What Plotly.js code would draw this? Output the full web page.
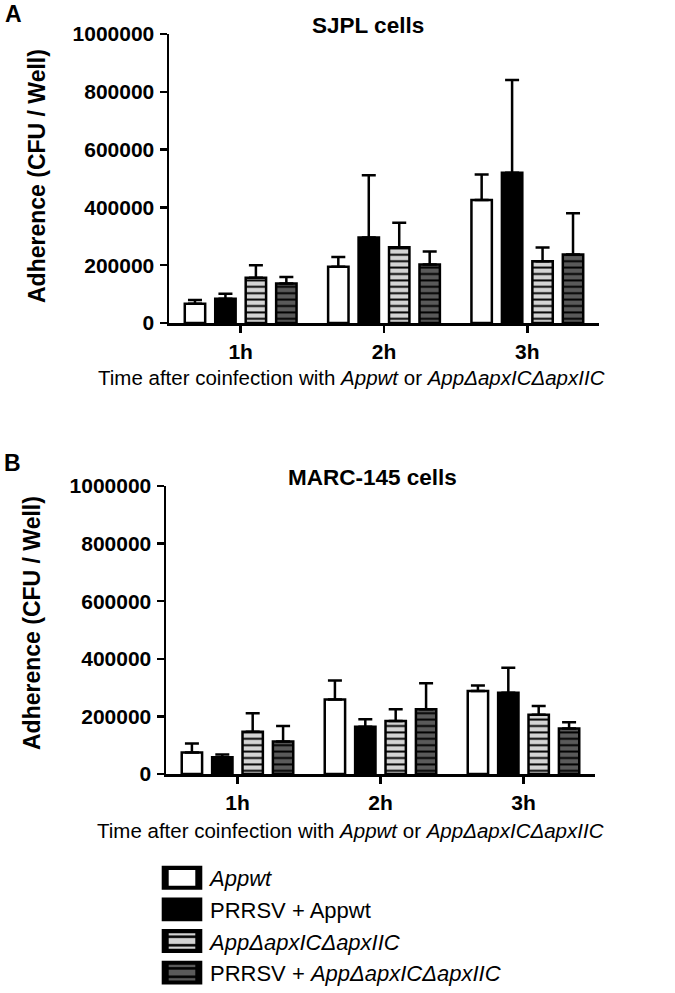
<!DOCTYPE html>
<html>
<head>
<meta charset="utf-8">
<script src="https://cdn.plot.ly/plotly-3.0.1.min.js"></script>
<style>
  html, body { margin: 0; padding: 0; background: #fff; }
  #chart { width: 675px; height: 993px; }
</style>
</head>
<body>
<div id="chart"></div>
<script>
// ---- data ----
const categories = ['1h', '2h', '3h'];
const seriesNames = [
  '<i>Appwt</i>',
  'PRRSV + Appwt',
  '<i>AppΔapxICΔapxIIC</i>',
  'PRRSV + <i>AppΔapxICΔapxIIC</i>'
];
// Panel A: SJPL cells (mean, upper SD)
const sjplAppwt       = [67000, 195000, 426000];
const sjplPrrsvAppwt  = [84000, 296000, 520000];
const sjplMutant      = [157000, 262000, 214000];
const sjplPrrsvMutant = [137000, 202000, 237000];
const sjplAppwtErr       = [13000, 33000, 88000];
const sjplPrrsvAppwtErr  = [17000, 215000, 321000];
const sjplMutantErr      = [43000, 85000, 47000];
const sjplPrrsvMutantErr = [22000, 45000, 143000];
// Panel B: MARC-145 cells
const marcAppwt       = [75000, 259000, 288000];
const marcPrrsvAppwt  = [58000, 164000, 282000];
const marcMutant      = [147000, 184000, 206000];
const marcPrrsvMutant = [113000, 225000, 158000];
const marcAppwtErr       = [31000, 66000, 19000];
const marcPrrsvAppwtErr  = [10000, 26000, 87000];
const marcMutantErr      = [64000, 41000, 30000];
const marcPrrsvMutantErr = [54000, 90000, 22000];
const yTickVals = [0, 200000, 400000, 600000, 800000, 1000000];

// ---- styles ----
const FONT = 'Liberation Sans, Arial, Helvetica, sans-serif';
const W = 675, H = 993;
const styles = [
  { color: '#ffffff', pattern: null },
  { color: '#000000', pattern: null },
  { color: '#d4d4d4', pattern: { shape: '-', fgcolor: '#000000', bgcolor: '#d4d4d4', size: 6.4, solidity: 0.3, fillmode: 'replace' } },
  { color: '#5a5a5a', pattern: { shape: '-', fgcolor: '#000000', bgcolor: '#5a5a5a', size: 6.4, solidity: 0.3, fillmode: 'replace' } }
];

function makeTrace(i, y, err, xa, ya, showlegend) {
  const marker = { color: styles[i].color, line: { color: '#000', width: 2.5 } };
  if (styles[i].pattern) marker.pattern = styles[i].pattern;
  return {
    type: 'bar', x: categories, y: y, name: seriesNames[i],
    xaxis: xa, yaxis: ya, showlegend: showlegend, legendgroup: 'g' + i,
    marker: marker,
    error_y: { type: 'data', symmetric: false, array: err, arrayminus: err.map(() => 0),
               color: '#000', thickness: 2.5, width: 7 },
    hoverinfo: 'skip'
  };
}

const data = [
  makeTrace(0, sjplAppwt, sjplAppwtErr, 'x', 'y', true),
  makeTrace(1, sjplPrrsvAppwt, sjplPrrsvAppwtErr, 'x', 'y', true),
  makeTrace(2, sjplMutant, sjplMutantErr, 'x', 'y', true),
  makeTrace(3, sjplPrrsvMutant, sjplPrrsvMutantErr, 'x', 'y', true),
  makeTrace(0, marcAppwt, marcAppwtErr, 'x2', 'y2', false),
  makeTrace(1, marcPrrsvAppwt, marcPrrsvAppwtErr, 'x2', 'y2', false),
  makeTrace(2, marcMutant, marcMutantErr, 'x2', 'y2', false),
  makeTrace(3, marcPrrsvMutant, marcPrrsvMutantErr, 'x2', 'y2', false)
];

function xAxis(domain, anchor) {
  return {
    domain: domain, anchor: anchor, type: 'category', range: [-0.5, 2.5],
    showline: true, linecolor: '#000', linewidth: 2.5, mirror: false,
    ticks: 'outside', ticklen: 7, tickwidth: 2.5, tickcolor: '#000',
    tickfont: { family: FONT, size: 21, color: '#000', weight: 'bold' },
    ticklabelstandoff: 1, automargin: false,
    showgrid: false, zeroline: false, fixedrange: true
  };
}
function yAxis(domain, anchor) {
  return {
    domain: domain, anchor: anchor, range: [0, 1000000],
    tickvals: yTickVals, tickformat: 'd',
    showline: true, linecolor: '#000', linewidth: 2.5,
    ticks: 'outside', ticklen: 7, tickwidth: 2.5, tickcolor: '#000',
    tickfont: { family: FONT, size: 21, color: '#000', weight: 'bold' },
    ticklabelstandoff: 1, automargin: false,
    showgrid: false, zeroline: false, fixedrange: true
  };
}

const xTitle = 'Time after coinfection with <i>Appwt</i> or <i>AppΔapxICΔapxIIC</i>';
const yTitle = 'Adherence (CFU / Well)';

function ann(text, px, py, size, bold, extra) {
  return Object.assign({
    text: text, xref: 'paper', yref: 'paper', x: px / W, y: 1 - py / H,
    xanchor: 'center', yanchor: 'middle', showarrow: false,
    font: { family: FONT, size: size, color: '#000', weight: bold ? 'bold' : 'normal' }
  }, extra || {});
}

const layout = {
  width: W, height: H,
  margin: { l: 0, r: 0, t: 0, b: 0, autoexpand: false },
  paper_bgcolor: '#fff', plot_bgcolor: '#fff',
  barmode: 'group', bargap: 0.15, bargroupgap: 0.33,
  showlegend: true,
  xaxis: xAxis([169 / W, 599 / W], 'y'),
  yaxis: yAxis([1 - 323 / H, 1 - 34 / H], 'x'),
  xaxis2: xAxis([166 / W, 595 / W], 'y2'),
  yaxis2: yAxis([1 - 774 / H, 1 - 486 / H], 'x2'),
  legend: {
    x: 152 / W, y: 1 - 857 / H, xanchor: 'left', yanchor: 'top',
    font: { family: FONT, size: 22, color: '#000' },
    itemwidth: 48, tracegroupgap: 1, traceorder: 'normal',
    bgcolor: 'rgba(0,0,0,0)', borderwidth: 0
  },
  annotations: [
    ann('A', 13, 14, 23, true),
    ann('B', 12, 463, 23, true),
    ann('SJPL cells', 368, 25, 22.5, true),
    ann('MARC-145 cells', 372, 477, 22.5, true),
    ann(yTitle, 37, 176, 23, true, { textangle: -90 }),
    ann(yTitle, 32, 623, 23, true, { textangle: -90 }),
    ann(xTitle, 351, 377, 20.5, false),
    ann(xTitle, 350, 830, 20.5, false)
  ]
};

Plotly.newPlot('chart', data, layout, { staticPlot: true, displayModeBar: false }).then(function (gd) {
  // enlarge legend swatches to the reference's wide boxes
  gd.querySelectorAll('.legend .legendpoints path').forEach(function (p) {
    p.setAttribute('transform', 'translate(30,0) scale(2.8,1.65)');
  });
});
</script>
</body>
</html>
